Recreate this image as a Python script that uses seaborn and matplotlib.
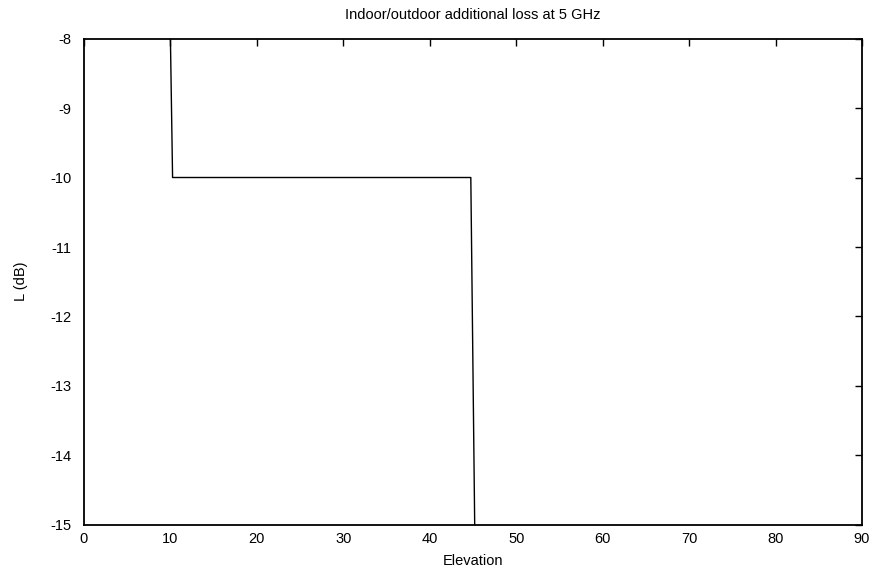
import numpy as np
import pandas as pd
import matplotlib
matplotlib.use("Agg")
import matplotlib.pyplot as plt
import seaborn as sns

# values (clipped at the axes limits)
elevation = [10.0, 10.25, 44.75, 45.2]
loss_db = [-8.0, -10.0, -10.0, -15.0]

x_ticks = list(range(0, 91, 10))
y_ticks = list(range(-15, -7, 1))

df = pd.DataFrame({"Elevation": elevation, "L (dB)": loss_db})

sns.set_theme(style="white", rc={"text.color": "black", "axes.labelcolor": "black"})
plt.rcParams["font.family"] = ["Liberation Sans", "DejaVu Sans"]
plt.rcParams["axes.unicode_minus"] = False

fig = plt.figure(figsize=(8.72, 5.74), dpi=100)
ax = fig.add_axes([0.0963, 0.0854, 0.8922, 0.8475])

sns.lineplot(data=df, x="Elevation", y="L (dB)", color="black", linewidth=1.0, sort=False, ax=ax)

ax.set_xlim(0, 90)
ax.set_ylim(-15, -8)
ax.set_xticks(x_ticks)
ax.set_yticks(y_ticks)
ax.tick_params(direction="in", length=5, width=1, top=True, right=True, labelsize=10.5, colors="black")
ax.tick_params(axis="y", pad=9)
ax.tick_params(axis="x", pad=5)
for side in ax.spines.values():
    side.set_color("black")
    side.set_linewidth(1.3)

ax.set_xlabel("Elevation", fontsize=10.5, labelpad=6, color="black")
ax.set_ylabel("L (dB)", fontsize=10.5, labelpad=16, color="black")
ax.set_title("Indoor/outdoor additional loss at 5 GHz", fontsize=10.5, pad=14, color="black")

fig.savefig("out.png", dpi=100)
plt.close("all")
